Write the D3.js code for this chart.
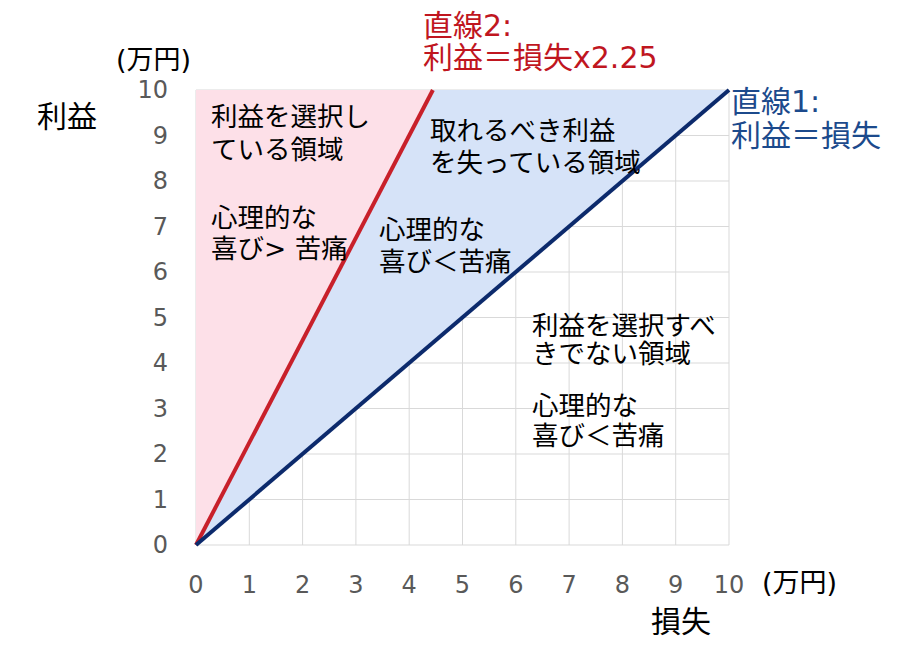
<!DOCTYPE html>
<html lang="ja">
<head>
<meta charset="utf-8" />
<title>利益と損失</title>
<script src="https://d3js.org/d3.v7.min.js"></script>
<style>
  body { margin: 0; background: #fff; }
  text { font-family: "DejaVu Sans", "Noto Sans CJK JP", sans-serif; }
</style>
</head>
<body>
<div id="chart"></div>
<script>
// data
const ticks = [0, 1, 2, 3, 4, 5, 6, 7, 8, 9, 10];
const line1 = [[0, 0], [10, 10]];           // 利益 = 損失
const line2 = [[0, 0], [10 / 2.25, 10]];    // 利益 = 損失 x 2.25
const pinkArea = [[0, 0], [10 / 2.25, 10], [0, 10]];
const blueArea = [[0, 0], [10, 10], [10 / 2.25, 10]];

const W = 910, H = 646;
const svg = d3.select("#chart").append("svg")
    .attr("width", W).attr("height", H);

const x = d3.scaleLinear().domain([0, 10]).range([196, 729]);
const y = d3.scaleLinear().domain([0, 10]).range([545, 90]);

// grid
const grid = svg.append("g").attr("stroke", "#d9d9d9").attr("stroke-width", 1);
grid.selectAll(".gx").data(ticks).enter().append("line")
    .attr("x1", d => x(d)).attr("x2", d => x(d))
    .attr("y1", y(0)).attr("y2", y(10));
grid.selectAll(".gy").data(ticks).enter().append("line")
    .attr("x1", x(0)).attr("x2", x(10))
    .attr("y1", d => y(d)).attr("y2", d => y(d));

// areas
const poly = d3.line().x(d => x(d[0])).y(d => y(d[1]));
svg.append("path").attr("d", poly(pinkArea) + "Z").attr("fill", "#fde0e8");
svg.append("path").attr("d", poly(blueArea) + "Z").attr("fill", "#d6e3f8");

// lines
svg.append("path").attr("d", poly(line2)).attr("stroke", "#c8202a")
    .attr("stroke-width", 4).attr("fill", "none");
svg.append("path").attr("d", poly(line1)).attr("stroke", "#0c2a6c")
    .attr("stroke-width", 4).attr("fill", "none");

// tick labels
svg.selectAll(".ty").data(ticks).enter().append("text")
    .attr("x", 168).attr("y", d => y(d))
    .attr("text-anchor", "end").attr("dominant-baseline", "central")
    .attr("font-size", 24)
    .attr("fill", "#595959").text(d => d);
svg.selectAll(".tx").data(ticks).enter().append("text")
    .attr("x", d => x(d)).attr("y", 585)
    .attr("text-anchor", "middle").attr("dominant-baseline", "central")
    .attr("font-size", 24)
    .attr("fill", "#595959").text(d => d);

// labels
function label(lines, x0, ys, size, color) {
  lines.forEach((t, i) => {
    svg.append("text").attr("x", x0).attr("y", ys[i])
      .attr("dominant-baseline", "central")
      .attr("font-size", size).attr("fill", color).text(t);
  });
}
label(["(万円)"], 116, [59], 27, "#000");
label(["利益"], 37, [116], 30, "#000");
label(["(万円)"], 762, [582], 27, "#000");
label(["損失"], 651, [621], 30, "#000");

label(["直線2:", "利益＝損失x2.25"], 423, [25, 57], 30, "#c0161f");
label(["直線1:", "利益＝損失"], 731, [101, 135], 30, "#1c4a8c");

label(["利益を選択し", "ている領域", "心理的な", "喜び> 苦痛"], 211, [116, 149, 217, 248], 26.5, "#000");
label(["取れるべき利益", "を失っている領域"], 430, [130, 162], 26.5, "#000");
label(["心理的な", "喜び＜苦痛"], 379, [229, 261], 26.5, "#000");
label(["利益を選択すべ", "きでない領域", "心理的な", "喜び＜苦痛"], 532, [325, 353, 405, 435], 26.5, "#000");
</script>
</body>
</html>
